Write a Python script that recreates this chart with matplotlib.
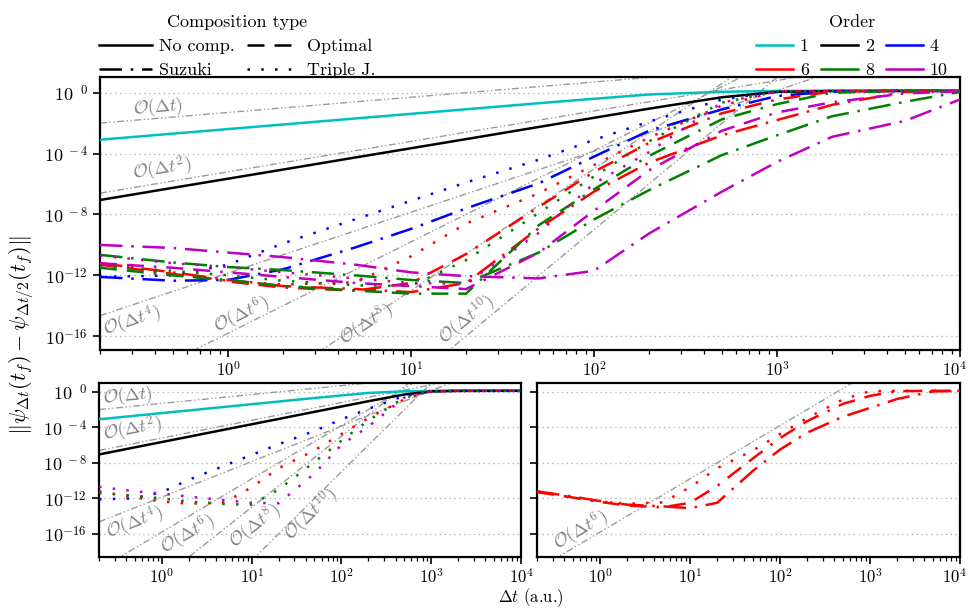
import numpy as np
import matplotlib
matplotlib.use("Agg")
import matplotlib.pyplot as plt
from matplotlib.lines import Line2D
from matplotlib.ticker import NullLocator, LogLocator, FixedLocator
from matplotlib.transforms import ScaledTranslation

plt.rcParams['font.family'] = 'serif'
plt.rcParams['font.serif'] = ['cmr10', 'DejaVu Serif']
plt.rcParams['mathtext.fontset'] = 'cm'
plt.rcParams['axes.formatter.use_mathtext'] = True
plt.rcParams['font.size'] = 13

# time steps (a.u.)
dt = [0.2, 0.5, 1, 2, 5, 10, 20, 50, 100, 200, 500, 1000, 2000, 5000, 10000]

# log10 of the error norm
o1_none = [-3.09, -2.69, -2.39, -2.09, -1.69, -1.39, -1.09, -0.69, -0.40, -0.12, 0.06, 0.11, 0.12, 0.12, 0.12]
o2_none = [-7.05, -6.25, -5.65, -5.05, -4.25, -3.65, -3.05, -2.25, -1.65, -1.05, -0.30, 0.05, 0.11, 0.12, 0.12]
o4_triple = [-12.1, -12.0, -11.3, -9.9, -8.3, -7.1, -5.9, -4.4, -3.1, -1.9, -0.45, 0.08, 0.12, 0.12, 0.12]
o4_suzuki = [-12.1, -12.35, -12.3, -11.6, -10.15, -8.95, -7.6, -5.95, -4.2, -2.5, -1.1, -0.22, 0.08, 0.12, 0.12]
o6_triple = [-11.2, -11.9, -12.35, -12.6, -12.45, -10.75, -8.6, -6.6, -4.75, -2.95, -0.85, 0.08, 0.12, 0.12, 0.12]
o6_optimal = [-11.3, -11.9, -12.4, -12.8, -13.0, -12.5, -10.6, -7.5, -5.2, -3.3, -1.35, -0.45, 0.08, 0.12, 0.12]
o6_suzuki = [-11.2, -11.8, -12.3, -12.7, -12.9, -13.1, -12.5, -8.9, -6.5, -4.6, -2.8, -1.8, -0.8, 0.05, 0.12]
o8_triple = [-11.4, -11.7, -12.0, -12.35, -12.65, -12.7, -11.0, -7.9, -5.5, -3.2, -0.65, 0.08, 0.12, 0.12, 0.12]
o8_optimal = [-11.5, -12.0, -12.3, -12.7, -13.0, -13.2, -13.2, -8.7, -6.35, -4.15, -1.75, -0.75, 0.0, 0.12, 0.12]
o8_suzuki = [-10.65, -11.15, -11.45, -11.65, -12.0, -12.3, -12.5, -10.5, -8.33, -6.4, -4.1, -2.8, -1.55, -0.6, 0.05]
o10_triple = [-10.7, -11.2, -11.45, -11.8, -12.2, -12.5, -12.55, -9.2, -5.97, -3.9, -0.65, 0.08, 0.12, 0.12, 0.12]
o10_optimal = [-11.2, -11.5, -11.8, -12.1, -12.5, -12.7, -12.9, -10.5, -7.75, -5.1, -2.5, -1.3, -0.63, -0.05, 0.10]
o10_suzuki = [-10.0, -10.2, -10.5, -10.8, -11.3, -11.8, -12.05, -12.2, -11.7, -9.25, -6.5, -4.55, -2.9, -1.85, -0.45]

# reference power laws O(dt^p): log10 prefactor
ref_orders = [1, 2, 4, 6, 8, 10]
ref_logc = [-1.3, -5.2, -11.85, -15.8, -21.0, -29.0]

orders = [1, 2, 4, 6, 8, 10]
colors = {1: 'c', 2: 'k', 4: 'b', 6: 'r', 8: 'g', 10: 'm'}
styles = {'No comp.': '-',
          'Optimal': (0, (6.8, 4, 6.8, 4, 1, 4)),
          'Suzuki': (0, (9, 3.5, 1, 3.5)),
          'Triple J.': (0, (1, 4.5))}

series = [(1, 'No comp.', o1_none), (2, 'No comp.', o2_none),
          (4, 'Triple J.', o4_triple), (4, 'Suzuki', o4_suzuki),
          (6, 'Triple J.', o6_triple), (6, 'Optimal', o6_optimal), (6, 'Suzuki', o6_suzuki),
          (8, 'Triple J.', o8_triple), (8, 'Optimal', o8_optimal), (8, 'Suzuki', o8_suzuki),
          (10, 'Triple J.', o10_triple), (10, 'Optimal', o10_optimal), (10, 'Suzuki', o10_suzuki)]

LW = 1.8
gray = '#9a9a9a'

fig = plt.figure(figsize=(9.68, 6.09), dpi=100)
ax_top = fig.add_axes([0.1033, 0.4253, 0.8884, 0.4475])
ax_bl = fig.add_axes([0.1023, 0.0854, 0.4360, 0.2857])
ax_br = fig.add_axes([0.5548, 0.0854, 0.4370, 0.2857])

yticks = [1e0, 1e-4, 1e-8, 1e-12, 1e-16]
ylabels = [r'$10^{\ \ 0}$', r'$10^{\ -4}$', r'$10^{\ -8}$', r'$10^{-12}$', r'$10^{-16}$']
xticks = [1e0, 1e1, 1e2, 1e3, 1e4]
xlabels = [r'$10^{0}$', r'$10^{1}$', r'$10^{2}$', r'$10^{3}$', r'$10^{4}$']

for ax, ylo in [(ax_top, 10**-16.9), (ax_bl, 10**-18.6), (ax_br, 10**-18.6)]:
    ax.set_xscale('log')
    ax.set_yscale('log')
    ax.set_xlim(0.2, 1e4)
    ax.set_ylim(ylo, 10**1.0)
    ax.set_yticks(yticks)
    ax.set_yticklabels(ylabels)
    ax.yaxis.set_minor_locator(NullLocator())
    ax.xaxis.set_major_locator(FixedLocator(xticks))
    ax.set_xticklabels(xlabels)
    ax.xaxis.set_minor_locator(LogLocator(base=10, subs=np.arange(2, 10), numticks=20))
    ax.grid(axis='y', which='major', linestyle=(0, (1, 2.5)), color='#b5b5b5', lw=1.0)
    ax.tick_params(which='major', direction='out', length=5, width=1.2, labelsize=13)
    ax.tick_params(axis='x', which='major', labelsize=12, pad=2.5)
    ax.tick_params(which='minor', direction='out', length=3, width=0.9)
    for s in ax.spines.values():
        s.set_linewidth(1.6)
ax_br.set_yticklabels([])

# keep the 10^4 labels at the figure's right edge inside the picture
for ax in (ax_top, ax_br):
    last = ax.xaxis.get_major_ticks()[-1].label1
    last.set_horizontalalignment('right')
    last.set_transform(last.get_transform() + ScaledTranslation(0.07, 0, fig.dpi_scale_trans))

ref_x = [0.2, 1e4]


def draw_ref(ax, p, c):
    ax.plot(ref_x, [10**c * x**p for x in ref_x], color=gray, lw=1.0,
            linestyle=(0, (5, 1.8, 1, 1.8, 1, 1.8)), zorder=1)


def slope_angle(ax, p):
    a = ax.transData.transform((1.0, 1.0))
    b = ax.transData.transform((10.0, 10.0**p))
    return np.degrees(np.arctan2(b[1] - a[1], b[0] - a[0]))


def ref_label(ax, p, x, y):
    txt = r'$\mathcal{O}(\Delta t)$' if p == 1 else r'$\mathcal{O}(\Delta t^{%d})$' % p
    ax.text(x, y, txt, transform=ax.transAxes, color='#808080', fontsize=13,
            rotation=slope_angle(ax, p), ha='center', va='center',
            rotation_mode='anchor', zorder=2)


# top panel
for p, c in zip(ref_orders, ref_logc):
    draw_ref(ax_top, p, c)
for order, comp, vals in series:
    ax_top.plot(dt, 10**np.array(vals), color=colors[order], lw=LW,
                linestyle=styles[comp], zorder=3)
top_pos = {1: (0.067, 0.89), 2: (0.073, 0.661), 4: (0.037, 0.104),
           6: (0.165, 0.128), 8: (0.310, 0.092), 10: (0.427, 0.110)}
for p in ref_orders:
    ref_label(ax_top, p, *top_pos[p])

# bottom left: no composition and triple jump
for p, c in zip(ref_orders, ref_logc):
    draw_ref(ax_bl, p, c)
for order, comp, vals in series:
    if comp in ('No comp.', 'Triple J.'):
        ax_bl.plot(dt, 10**np.array(vals), color=colors[order], lw=LW,
                   linestyle=styles[comp], zorder=3)
bl_pos = {1: (0.069, 0.922), 2: (0.081, 0.730), 4: (0.085, 0.195),
          6: (0.212, 0.126), 8: (0.370, 0.172), 10: (0.504, 0.241)}
for p in ref_orders:
    ref_label(ax_bl, p, *bl_pos[p])

# bottom right: order 6 only
draw_ref(ax_br, 6, ref_logc[3])
for order, comp, vals in series:
    if order == 6:
        ax_br.plot(dt, 10**np.array(vals), color=colors[order], lw=LW,
                   linestyle=styles[comp], zorder=3)
ref_label(ax_br, 6, 0.105, 0.147)

# legends (entries ordered so rows read left to right)
comp_order = ['No comp.', 'Suzuki', 'Optimal', 'Triple J.']
comp_handles = [Line2D([], [], color='k', lw=LW, linestyle=styles[n]) for n in comp_order]
leg1 = ax_top.legend(comp_handles, comp_order, title='Composition type', ncol=2,
                     loc='lower left', bbox_to_anchor=(-0.005, 0.985), frameon=False,
                     handlelength=2.9, handletextpad=0.4, columnspacing=0.7,
                     borderaxespad=0.0, borderpad=0.2, labelspacing=0.45, fontsize=13,
                     title_fontsize=13)
ax_top.add_artist(leg1)
ord_seq = [1, 6, 2, 8, 4, 10]
ord_handles = [Line2D([], [], color=colors[o], lw=LW) for o in ord_seq]
ax_top.legend(ord_handles, [str(o) for o in ord_seq], title='Order', ncol=3,
              loc='lower right', bbox_to_anchor=(0.99, 0.985), frameon=False,
              handlelength=2.05, handletextpad=0.35, columnspacing=0.7,
              borderaxespad=0.0, borderpad=0.2, labelspacing=0.45, fontsize=13,
              title_fontsize=13)

fig.text(0.022, 0.45, r'$\Vert\psi_{\Delta t}(t_f) - \psi_{\Delta t/2}(t_f)\Vert$',
         rotation=90, ha='center', va='center', fontsize=16)
fig.text(0.548, 0.019, r'$\Delta t$ (a.u.)', ha='center', va='center', fontsize=12)

fig.savefig('out.png', dpi=100)
